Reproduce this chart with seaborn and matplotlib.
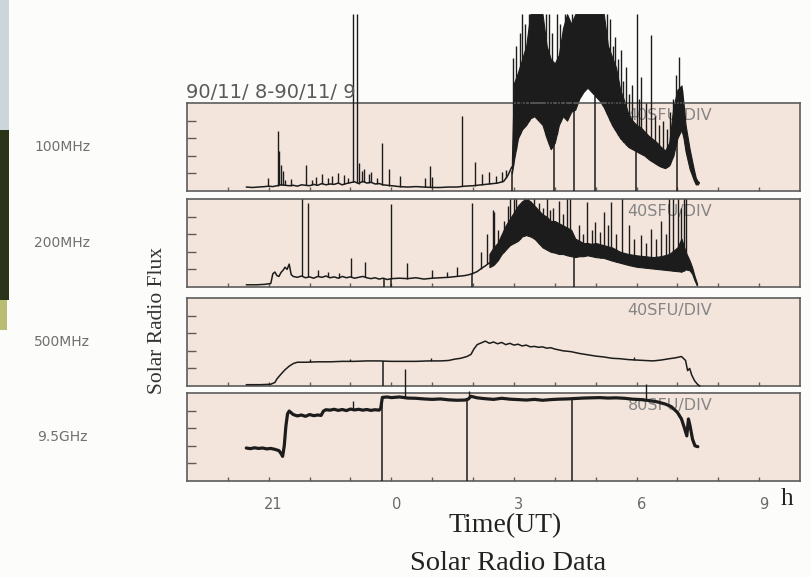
import numpy as np
import matplotlib
matplotlib.use("Agg")
import matplotlib.pyplot as plt
import matplotlib.transforms as mtransforms
from matplotlib.patches import Rectangle
import seaborn as sns

sns.set_theme(style="white")
plt.rcParams["font.family"] = ["DejaVu Sans"]

# ---------------------------------------------------------------------------
# Time axis: hours UT relative to 0h on 90/11/9 (negative = 90/11/8)
# ---------------------------------------------------------------------------
hour_ticks = list(range(-4, 10))
tick_pos = [-3, 0, 3, 6, 9]
tick_text = ["21", "0", "3", "6", "9"]

channels = ["100MHz", "200MHz", "500MHz", "9.5GHz"]
scales = ["40SFU/DIV", "40SFU/DIV", "40SFU/DIV", "80SFU/DIV"]
sfu_per_div = [40, 40, 40, 80]

# ---------------------------- 100 MHz --------------------------------------
t_100 = [-3.55, -3.4, -3.25, -3.1, -3.0, -2.9, -2.8, -2.7, -2.6, -2.5, -2.4, -2.3,
         -2.2, -2.1, -2.0, -1.9, -1.8, -1.7, -1.6, -1.5, -1.4, -1.3, -1.2, -1.1,
         -1.0, -0.9, -0.8, -0.7, -0.6, -0.5, -0.4, -0.3, -0.2, -0.1, 0.0, 0.2,
         0.4, 0.6, 0.8, 1.0, 1.2, 1.4, 1.6, 1.8, 2.0, 2.2, 2.4, 2.6, 2.75, 2.85, 2.95]
f_100 = [9, 8, 9, 10, 11, 10, 12, 14, 13, 12, 13, 11,
         14, 13, 12, 15, 13, 17, 14, 16, 15, 18, 14, 17,
         19, 21, 17, 22, 18, 20, 16, 17, 14, 13, 12, 10,
         9, 10, 9, 8, 8, 9, 9, 11, 12, 14, 16, 18, 22, 35, 55]
burst_t_100 = [2.95, 3.0, 3.1, 3.2, 3.3, 3.4, 3.5, 3.6, 3.7, 3.8, 3.9, 4.0, 4.1, 4.2,
               4.3, 4.4, 4.5, 4.6, 4.7, 4.8, 4.9, 5.0, 5.1, 5.2, 5.3, 5.4, 5.5, 5.6,
               5.7, 5.8, 5.9, 6.0, 6.1, 6.2, 6.3, 6.4, 6.5, 6.6, 6.7, 6.8, 6.9, 7.0,
               7.1, 7.15, 7.2, 7.3, 7.4, 7.45, 7.5, 7.53]
burst_lo_100 = [40, 70, 120, 140, 150, 165, 170, 160, 150, 120, 95, 110, 150, 170,
                160, 180, 185, 210, 225, 235, 225, 215, 205, 190, 170, 150, 135, 120,
                110, 100, 95, 90, 85, 80, 72, 66, 60, 55, 52, 58, 80, 120,
                140, 120, 90, 50, 25, 15, 15, 20]
burst_hi_100 = [70, 245, 270, 300, 330, 402, 402, 402, 402, 330, 300, 290, 310, 370,
                402, 380, 402, 402, 402, 402, 402, 402, 402, 402, 330, 305, 280, 230,
                205, 175, 160, 150, 145, 135, 125, 118, 110, 100, 92, 110, 190, 230,
                240, 200, 150, 95, 50, 30, 22, 20]
spike_t_100 = [-3.03, -2.78, -2.74, -2.7, -2.66, -2.6, -2.45, -2.1, -1.95, -1.85,
               -1.7, -1.55, -1.45, -1.3, -1.15, -1.05, -0.95, -0.85, -0.8, -0.72,
               -0.66, -0.55, -0.5, -0.35, -0.22, -0.05, 0.22, 0.83, 0.95, 1.0,
               1.74, 2.05, 2.22, 2.4, 2.55, 2.7, 2.8, 2.98, 3.05, 3.15,
               3.2, 3.28, 3.36, 3.78, 3.85, 3.92, 4.05, 4.13, 4.25, 4.42,
               5.28, 5.35, 5.42, 5.48, 5.55, 5.62, 5.68, 5.75, 5.82, 5.88,
               6.0, 6.05, 6.1, 6.22, 6.35, 6.45, 6.55, 6.65, 6.75, 6.82,
               6.9, 6.97, 7.05, 7.12]
spike_v_100 = [30, 136, 90, 60, 45, 24, 28, 59, 26, 32,
               38, 30, 34, 40, 36, 30, 402, 402, 63, 45,
               50, 38, 43, 30, 109, 50, 34, 30, 57, 32,
               170, 66, 39, 43, 34, 43, 48, 302, 330, 360,
               402, 380, 402, 402, 402, 360, 402, 380, 402, 402,
               402, 390, 330, 350, 300, 320, 250, 282, 220, 240,
               402, 210, 259, 200, 355, 170, 150, 160, 140, 180,
               210, 264, 305, 230]
drop_t_100 = [2.96, 3.99, 4.47, 4.99, 5.99, 6.99]

# ---------------------------- 200 MHz --------------------------------------
t_200 = [-3.55, -3.3, -3.1, -2.95, -2.9, -2.85, -2.8, -2.75, -2.7, -2.65, -2.6, -2.55,
         -2.5, -2.45, -2.4, -2.3, -2.2, -2.1, -2.0, -1.9, -1.8, -1.7, -1.6, -1.5,
         -1.4, -1.3, -1.2, -1.1, -1.0, -0.9, -0.8, -0.7, -0.6, -0.5, -0.4, -0.3,
         -0.2, -0.1, 0.0, 0.2, 0.4, 0.6, 0.8, 1.0, 1.2, 1.4, 1.6, 1.8,
         1.9, 2.0, 2.1, 2.2, 2.3, 2.4]
f_200 = [5, 5, 6, 8, 30, 34, 26, 24, 33, 38, 45, 40,
         52, 28, 24, 22, 25, 21, 23, 20, 24, 22, 25, 21,
         23, 20, 24, 21, 23, 20, 22, 24, 21, 19, 21, 18,
         20, 17, 19, 20, 19, 21, 18, 20, 21, 22, 24, 26,
         28, 31, 35, 42, 48, 55]
burst_t_200 = [2.4, 2.5, 2.6, 2.7, 2.8, 2.9, 3.0, 3.1, 3.2, 3.3, 3.4, 3.5, 3.6, 3.7,
               3.8, 3.9, 4.0, 4.1, 4.2, 4.3, 4.4, 4.5, 4.6, 4.7, 4.8, 4.9, 5.0,
               5.2, 5.4, 5.6, 5.8, 6.0, 6.2, 6.4, 6.6, 6.8, 7.0,
               7.1, 7.2, 7.3, 7.36, 7.42, 7.48]
burst_lo_200 = [45, 50, 60, 75, 85, 95, 100, 105, 115, 118, 115, 110, 100, 90,
                85, 80, 78, 75, 75, 72, 70, 68, 70, 70, 72, 70, 68,
                66, 60, 55, 50, 46, 44, 42, 40, 38, 36,
                35, 40, 38, 30, 15, 3]
burst_hi_200 = [75, 90, 100, 120, 140, 155, 170, 185, 195, 200, 195, 185, 175, 165,
                160, 150, 150, 145, 140, 135, 130, 110, 105, 100, 100, 98, 100,
                95, 90, 80, 75, 72, 70, 68, 70, 75, 90,
                110, 80, 60, 45, 25, 8]
spike_t_200 = [-2.18, -2.03, -1.8, -1.55, -1.27, -0.98, -0.64, -0.02, 0.39, 1.0,
               1.35, 1.6, 1.98, 2.2, 2.35, 2.48, 2.52, 2.62, 2.75, 2.85,
               2.9, 3.0, 3.05, 3.15, 3.25, 3.35, 3.42, 3.5, 3.62, 3.7,
               3.8, 3.88, 3.95, 4.1, 4.2, 4.3, 4.38, 4.6, 4.7, 4.8,
               4.9, 4.98, 5.1, 5.2, 5.3, 5.38, 5.5, 5.65, 5.82, 5.95,
               6.1, 6.22, 6.35, 6.48, 6.6, 6.72, 6.8, 6.9, 7.02, 7.1,
               7.15, 7.2]
spike_v_200 = [200, 191, 39, 34, 32, 66, 57, 189, 55, 39,
               34, 45, 191, 80, 120, 175, 170, 130, 150, 185,
               200, 200, 200, 185, 200, 200, 190, 200, 190, 180,
               200, 175, 180, 195, 165, 200, 200, 141, 120, 193,
               130, 148, 125, 170, 140, 193, 120, 200, 141, 110,
               118, 100, 132, 110, 150, 120, 200, 200, 200, 180,
               200, 200]
drop_t_200 = [-0.17, -0.02, 1.98, 4.47]

# ---------------------------- 500 MHz --------------------------------------
t_500 = [-3.55, -3.2, -2.95, -2.85, -2.8, -2.7, -2.6, -2.5, -2.4, -2.3, -2.1, -1.8,
         -1.5, -1.2, -0.9, -0.6, -0.3, 0.0, 0.3, 0.6, 0.9, 1.2, 1.4, 1.55,
         1.7, 1.85, 1.95, 2.02, 2.1, 2.2, 2.3, 2.4, 2.5, 2.6, 2.7, 2.8,
         2.9, 3.0, 3.1, 3.2, 3.3, 3.4, 3.5, 3.6, 3.7, 3.8, 3.9, 4.0,
         4.2, 4.4, 4.6, 4.8, 5.0, 5.2, 5.4, 5.6, 5.8, 6.0, 6.2, 6.4,
         6.6, 6.8, 6.95, 7.1, 7.2, 7.25, 7.3, 7.35, 7.42, 7.5, 7.55]
f_500 = [3, 3, 4, 8, 16, 27, 37, 45, 51, 54, 54, 55,
         55, 56, 56, 57, 57, 56, 56, 56, 57, 57, 58, 61,
         63, 67, 72, 84, 94, 98, 102, 97, 100, 96, 99, 94,
         97, 93, 95, 91, 93, 89, 90, 88, 89, 86, 87, 84,
         80, 78, 74, 71, 68, 66, 63, 62, 60, 59, 58, 57,
         59, 62, 64, 67, 58, 35, 40, 25, 12, 3, 0]
spike_t_500 = [-2.0, -1.0, 0.97, 5.95]
spike_v_500 = [62, 62, 63, 65]
drop_t_500 = [-0.2]

# ---------------------------- 9.5 GHz --------------------------------------
t_95 = [-3.55, -3.45, -3.35, -3.25, -3.15, -3.05, -2.95, -2.85, -2.75, -2.7, -2.66, -2.62,
        -2.58, -2.54, -2.5, -2.4, -2.3, -2.2, -2.1, -2.0, -1.9, -1.8, -1.72, -1.66,
        -1.6, -1.5, -1.4, -1.3, -1.2, -1.1, -1.0, -0.9, -0.8, -0.7, -0.6, -0.5,
        -0.4, -0.3, -0.26, -0.22, -0.1, 0.0, 0.2, 0.4, 0.6, 0.8, 1.0, 1.2,
        1.4, 1.6, 1.8, 1.88, 1.95, 2.1, 2.3, 2.5, 2.7, 2.9, 3.1, 3.3,
        3.5, 3.7, 3.9, 4.1, 4.3, 4.5, 4.7, 4.9, 5.1, 5.3, 5.5, 5.7,
        5.9, 6.1, 6.3, 6.5, 6.7, 6.85, 7.0, 7.1, 7.17, 7.23, 7.27, 7.31,
        7.37, 7.43, 7.5]
f_95 = [150, 147, 151, 148, 150, 146, 148, 144, 138, 125, 112, 160,
        250, 305, 318, 302, 296, 300, 294, 302, 297, 300, 298, 318,
        324, 322, 326, 321, 325, 320, 327, 323, 326, 322, 325, 321,
        324, 322, 330, 380, 382, 379, 382, 377, 376, 373, 371, 373,
        369, 367, 368, 372, 385, 378, 374, 371, 376, 372, 370, 368,
        371, 367, 370, 372, 373, 375, 377, 378, 379, 377, 378, 376,
        372, 370, 366, 360, 350, 338, 312, 282, 242, 205, 282, 250,
        190, 160, 156]
spike_t_95 = [-0.93, 0.34, 1.9, 6.23]
spike_v_95 = [363, 509, 409, 440]
drop_t_95 = [-0.24, 1.86, 4.41]

# ---------------------------------------------------------------------------
INK = "#1c1c1c"
FACE = "#f4e5dc"
FRAME = "#5c5c5c"

W, H = 810, 577
fig = plt.figure(figsize=(W / 100, H / 100), dpi=100, facecolor="#fcfcfb")

# strip of a neighbouring photo along the left edge of the page
fig.patches.append(Rectangle((0, 1 - 130 / H), 9 / W, 130 / H, transform=fig.transFigure,
                             facecolor="#cdd5dc", edgecolor="none", zorder=0))
fig.patches.append(Rectangle((0, 1 - 300 / H), 9 / W, 170 / H, transform=fig.transFigure,
                             facecolor="#2b3319", edgecolor="none", zorder=0))
fig.patches.append(Rectangle((0, 1 - 330 / H), 7 / W, 30 / H, transform=fig.transFigure,
                             facecolor="#b9bd73", edgecolor="none", zorder=0))

left_px, right_px = 187, 800
panel_px = [(103, 191), (199, 287), (298, 386), (393, 481)]

series = [
    (t_100, f_100, burst_t_100, burst_lo_100, burst_hi_100, spike_t_100, spike_v_100, drop_t_100, 1.1),
    (t_200, f_200, burst_t_200, burst_lo_200, burst_hi_200, spike_t_200, spike_v_200, drop_t_200, 1.1),
    (t_500, f_500, None, None, None, spike_t_500, spike_v_500, drop_t_500, 1.1),
    (t_95, f_95, None, None, None, spike_t_95, spike_v_95, drop_t_95, 2.3),
]

axes = []
for i, (top, bot) in enumerate(panel_px):
    ax = fig.add_axes([left_px / W, 1 - bot / H, (right_px - left_px) / W, (bot - top) / H])
    div = sfu_per_div[i]
    ax.set_facecolor(FACE)
    ax.set_xlim(-5, 10)
    ax.set_ylim(0, 5 * div)
    ax.set_xticks(hour_ticks)
    ax.set_yticks([div * k for k in range(1, 5)])
    ax.set_xticklabels([])
    ax.set_yticklabels([])
    ax.tick_params(axis="x", direction="in", length=3.2, width=1.0, color=FRAME,
                   bottom=True, top=False, labelbottom=False)
    ax.tick_params(axis="y", direction="in", length=6.5, width=1.0, color=FRAME,
                   left=True, right=False, labelleft=False)
    for sp in ax.spines.values():
        sp.set_color(FRAME)
        sp.set_linewidth(1.2)
    ax.set_xlabel("")
    ax.set_ylabel("")

    t, f, bt, blo, bhi, st, sv, dt, lw = series[i]
    trace_t = list(t) + (list(bt) if bt is not None else [])
    trace_f = list(f) + (list(blo) if blo is not None else [])

    if bt is not None:
        ax.fill_between(bt, blo, bhi, color=INK, linewidth=0.8, clip_on=False, zorder=2)
    sns.lineplot(x=t, y=f, ax=ax, color=INK, linewidth=lw, sort=False, estimator=None,
                 clip_on=False, zorder=3)
    foot = np.interp(st, trace_t, trace_f)
    ax.vlines(st, foot, sv, color=INK, linewidth=1.0, clip_on=False, zorder=3)
    drop_top = np.interp(dt, trace_t, trace_f)
    ax.vlines(dt, 0, drop_top, color=INK, linewidth=1.1, clip_on=False, zorder=3)

    ax.text(0.788, 0.86, scales[i], transform=ax.transAxes, ha="center", va="center",
            fontsize=11.5, color="#858585", zorder=1)
    fig.text(62 / W, 1 - (top + bot) / 2 / H, channels[i], ha="center", va="center",
             fontsize=10, color="#707070")
    axes.append(ax)

# hour labels below the bottom panel
ax4 = axes[-1]
trans = mtransforms.blended_transform_factory(ax4.transData, ax4.transAxes)
for p, s in zip(tick_pos, tick_text):
    ax4.text(p + 0.12, -0.27, s, transform=trans, ha="center", va="center",
             fontsize=10.5, color="#6a6a6a")

fig.text(186 / W, 1 - 93 / H, "90/11/ 8-90/11/ 9", ha="left", va="center",
         fontsize=14, color="#5a5a5a")
fig.text(157 / W, 1 - 320 / H, "Solar Radio Flux", rotation=90, ha="center", va="center",
         fontsize=15.5, family="Liberation Serif", color="#333333")
fig.text(787 / W, 1 - 499 / H, "h", ha="center", va="center",
         fontsize=18, family="Liberation Serif", color="#222222")
fig.text(505 / W, 1 - 526 / H, "Time(UT)", ha="center", va="center",
         fontsize=20, family="Liberation Serif", color="#222222")
fig.text(508 / W, 1 - 563 / H, "Solar Radio Data", ha="center", va="center",
         fontsize=20.5, family="Liberation Serif", color="#222222")

fig.savefig("out.png", dpi=100, facecolor=fig.get_facecolor())
